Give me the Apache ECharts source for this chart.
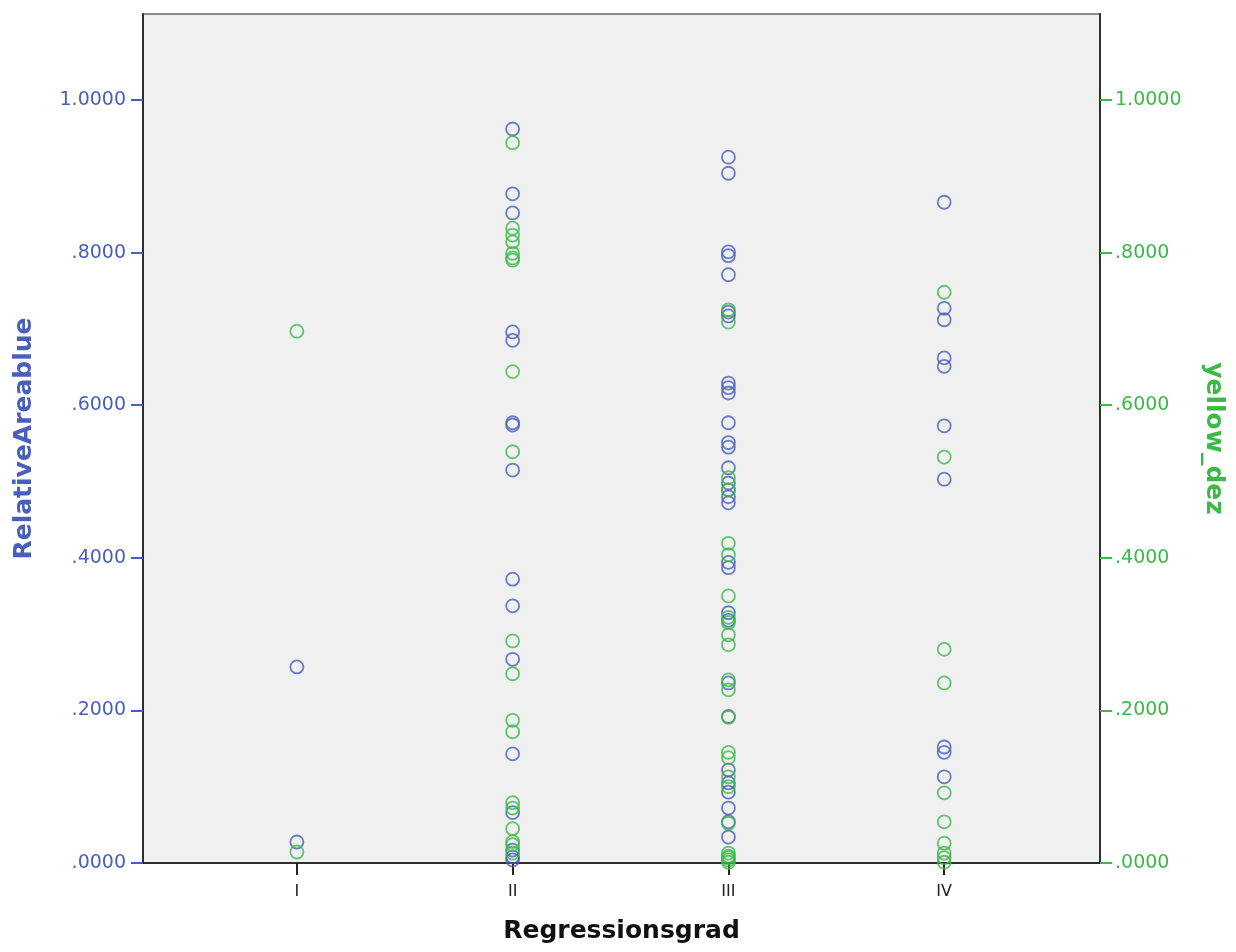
<!DOCTYPE html>
<html>
<head>
<meta charset="utf-8">
<script src="https://cdn.jsdelivr.net/npm/echarts@6/dist/echarts.min.js"></script>
<style>
html, body { margin: 0; padding: 0; background: #fff; }
#chart { width: 1236px; height: 952px; }
</style>
</head>
<body>
<div id="chart"></div>
<script>
// Kategorien der x-Achse
var categories = ['I', 'II', 'III', 'IV'];
var yTicks = [0, 0.2, 0.4, 0.6, 0.8, 1.0];

// RelativeAreablue je Regressionsgrad
var blueI = [0.257, 0.0275];
var blueII = [0.962, 0.877, 0.852, 0.696, 0.685, 0.577, 0.574, 0.515, 0.372, 0.337, 0.267, 0.143, 0.066, 0.017, 0.008, 0.004];
var blueIII = [0.925, 0.904, 0.801, 0.796, 0.771, 0.722, 0.717, 0.629, 0.623, 0.616, 0.577, 0.551, 0.545, 0.518, 0.498, 0.489,
    0.480, 0.472, 0.394, 0.387, 0.328, 0.318, 0.236, 0.192, 0.122, 0.105, 0.093, 0.072, 0.054, 0.034];
var blueIV = [0.866, 0.727, 0.712, 0.662, 0.651, 0.573, 0.503, 0.152, 0.145, 0.113];

// yellow_dez je Regressionsgrad
var greenI = [0.697, 0.0144];
var greenII = [0.944, 0.832, 0.823, 0.814, 0.799, 0.793, 0.790, 0.644, 0.539, 0.291, 0.248, 0.187, 0.172, 0.079, 0.072, 0.045, 0.028, 0.024, 0.013];
var greenIII = [0.725, 0.709, 0.505, 0.489, 0.419, 0.404, 0.350, 0.322, 0.315, 0.299, 0.286, 0.240, 0.227, 0.191, 0.145, 0.138,
    0.113, 0.100, 0.052, 0.013, 0.009, 0.007, 0.004, 0.001];
var greenIV = [0.748, 0.532, 0.280, 0.236, 0.092, 0.054, 0.026, 0.013, 0.007, 0.001];

var BLUE = '#4a5fbd';
var GREEN = '#3cba48';
var FONT = 'DejaVu Sans';

function toPoints(groups) {
    var res = [];
    groups.forEach(function (vals, i) {
        vals.forEach(function (v) { res.push([i + 1, v]); });
    });
    return res;
}

function fmt(v) {
    return v.toFixed(4).replace(/^0/, '');
}

var chart = echarts.init(document.getElementById('chart'));
var option = {
    backgroundColor: '#ffffff',
    animation: false,
    grid: {
        left: 143, right: 136, top: 14, bottom: 89,
        show: true,
        backgroundColor: '#f0f0f0',
        borderColor: '#888888',
        borderWidth: 2
    },
    xAxis: {
        type: 'value',
        min: 0.287,
        max: 4.722,
        name: 'Regressionsgrad',
        nameLocation: 'middle',
        nameGap: 56,
        nameTextStyle: { fontFamily: FONT, fontWeight: 'bold', fontSize: 25, color: '#111' },
        axisLine: { show: true, onZero: false, lineStyle: { color: '#111', width: 1.5 } },
        axisTick: { show: true, length: 12, customValues: [1, 2, 3, 4], lineStyle: { color: '#222', width: 2 } },
        axisLabel: {
            customValues: [1, 2, 3, 4],
            margin: 21,
            fontFamily: FONT, fontSize: 16, color: '#222',
            formatter: function (v) { return categories[Math.round(v) - 1] || ''; }
        },
        splitLine: { show: false }
    },
    yAxis: [{
        type: 'value',
        min: 0,
        max: 1.1127,
        position: 'left',
        name: 'RelativeAreablue',
        nameLocation: 'middle',
        nameGap: 106,
        nameTextStyle: { fontFamily: FONT, fontWeight: 'bold', fontSize: 25, color: BLUE },
        axisLine: { show: true, lineStyle: { color: '#111', width: 1.5 } },
        axisTick: { show: true, length: 12, customValues: yTicks, lineStyle: { color: BLUE, width: 2 } },
        axisLabel: {
            customValues: yTicks, margin: 17,
            fontFamily: FONT, fontSize: 19, color: BLUE, formatter: fmt
        },
        splitLine: { show: false }
    }, {
        type: 'value',
        min: 0,
        max: 1.1127,
        position: 'right',
        name: 'yellow_dez',
        nameLocation: 'middle',
        nameGap: 101,
        nameRotate: -90,
        nameTextStyle: { fontFamily: FONT, fontWeight: 'bold', fontSize: 25, color: GREEN },
        axisLine: { show: true, lineStyle: { color: '#111', width: 1.5 } },
        axisTick: { show: true, length: 12, customValues: yTicks, lineStyle: { color: GREEN, width: 2 } },
        axisLabel: {
            customValues: yTicks, margin: 15,
            fontFamily: FONT, fontSize: 19, color: GREEN, formatter: fmt
        },
        splitLine: { show: false }
    }],
    series: [{
        name: 'RelativeAreablue',
        type: 'scatter',
        yAxisIndex: 0,
        symbol: 'circle',
        symbolSize: 13,
        itemStyle: { color: 'rgba(0,0,0,0)', borderColor: BLUE, borderWidth: 1.8 },
        data: toPoints([blueI, blueII, blueIII, blueIV])
    }, {
        name: 'yellow_dez',
        type: 'scatter',
        yAxisIndex: 1,
        symbol: 'circle',
        symbolSize: 13,
        itemStyle: { color: 'rgba(0,0,0,0)', borderColor: GREEN, borderWidth: 1.8 },
        data: toPoints([greenI, greenII, greenIII, greenIV])
    }]
};
chart.setOption(option);
</script>
</body>
</html>
